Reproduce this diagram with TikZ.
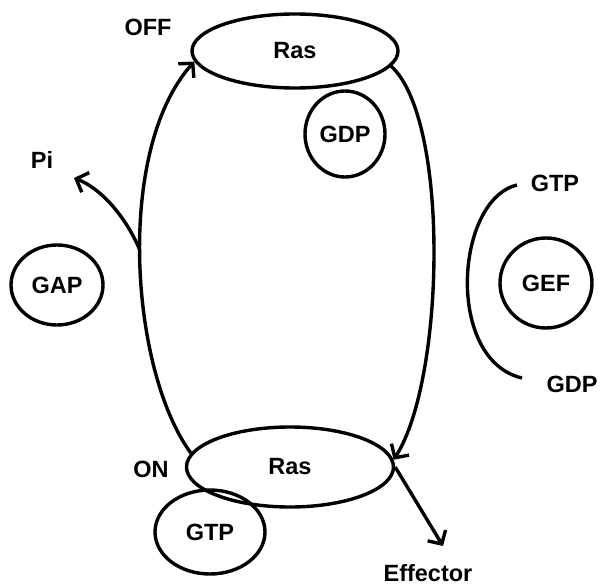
\documentclass[tikz,border=0pt]{standalone}
\usepackage{fontspec}
\setmainfont{Liberation Sans}
\usetikzlibrary{arrows.meta,shapes.geometric}
\begin{document}
\begin{tikzpicture}[x=1pt,y=-1pt,
  lbl/.style={font=\fontsize{23.5}{26}\selectfont\bfseries, inner sep=0pt},
  oval/.style={draw, ellipse, line width=3.4pt, inner sep=0pt, font=\fontsize{23.5}{26}\selectfont\bfseries},
  conn/.style={line width=3.4pt},
  tip/.style={-{Straight Barb[length=10pt,width=21pt,line width=3.4pt]}}]
\useasboundingbox (0,0) rectangle (606,586);
% ellipses
\node[oval, minimum width=206pt, minimum height=74pt] (rasT) at (295,51) {Ras};
\node[oval, minimum width=207pt, minimum height=80pt] (rasB) at (290,467) {Ras};
\node[oval, minimum width=80pt, minimum height=86pt] (gdpT) at (345,134) {GDP};
\node[oval, minimum width=110pt, minimum height=84pt] (gtpB) at (210,532) {GTP};
\node[oval, minimum width=92pt, minimum height=80pt] (gap) at (57,285) {GAP};
\node[oval, minimum width=92pt, minimum height=90pt] (gef) at (546,283) {GEF};
% labels
\node[lbl] (off) at (148,27) {OFF};
\node[lbl] (on) at (151,469) {ON};
\node[lbl] (pi) at (42,160) {Pi};
\node[lbl] (gtpR) at (555,183) {GTP};
\node[lbl] (gdpR) at (572,384) {GDP};
\node[lbl] (eff) at (428,573) {Effector};
% left cycle arc
\draw[conn, tip] (rasB.172) .. controls (130,370) and (115,150) .. coordinate[pos=0.52] (br) (rasT.186);
% Pi branch
\draw[conn, tip] (br) .. controls (125,215) and (100,188) .. (74,178);
% right cycle arc
\draw[conn, tip] (rasT.351) .. controls (450,120) and (445,380) .. (rasB.4);
% effector
\draw[conn, tip] (rasB.0) -- (443,546);
% bracket
\coordinate (bt) at (517,185);
\coordinate (bb) at (522,378);
\draw[conn] (bt) .. controls (455,200) and (445,360) .. (bb);
\end{tikzpicture}
\end{document}
